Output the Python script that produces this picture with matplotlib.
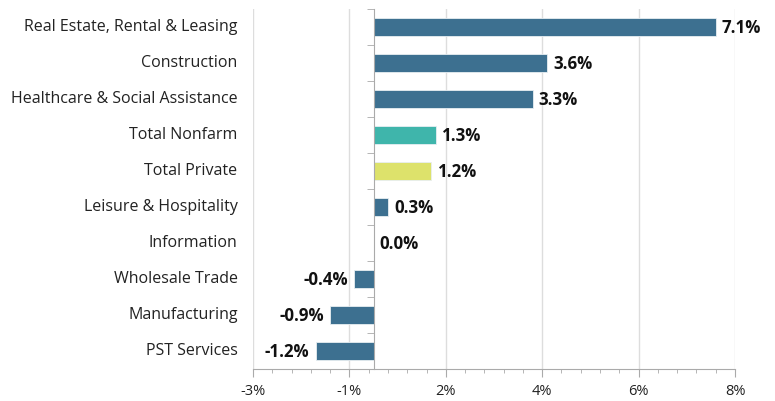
import matplotlib
matplotlib.use("Agg")
import matplotlib.pyplot as plt
import matplotlib.transforms as mtransforms
import numpy as np

categories = ["Real Estate, Rental & Leasing", "Construction",
              "Healthcare & Social Assistance", "Total Nonfarm", "Total Private",
              "Leisure & Hospitality", "Information", "Wholesale Trade",
              "Manufacturing", "PST Services"]
values = [7.1, 3.6, 3.3, 1.3, 1.2, 0.3, 0.0, -0.4, -0.9, -1.2]
colors = ["#3d7090", "#3d7090", "#3d7090", "#3fb5ab", "#dde26b",
          "#3d7090", "#3d7090", "#3d7090", "#3d7090", "#3d7090"]
xticks = [-2.5, -0.5, 1.5, 3.5, 5.5, 7.5]
xtick_labels = ["-3%", "-1%", "2%", "4%", "6%", "8%"]

plt.rcParams['font.family'] = ['Open Sans', 'DejaVu Sans']

fig = plt.figure(figsize=(7.75, 4.01), dpi=100)
ax = fig.add_axes([0.3265, 0.081, 0.6219, 0.8966])

y = np.arange(len(categories))
ax.barh(y, values, height=0.5, color=colors, edgecolor="#e8eef2",
        linewidth=0.6, zorder=3)

ax.set_xlim(-2.5, 7.5)
ax.set_ylim(len(categories) - 0.5, -0.5)

ax.set_xticks(xticks)
ax.set_xticklabels(xtick_labels, fontsize=10.5, color="#222222")
ax.set_xticks(np.arange(-2.5, 7.51, 0.4), minor=True)
ax.tick_params(axis="x", which="major", length=6, color="#aaaaaa", pad=5)
ax.tick_params(axis="x", which="minor", length=3, color="#aaaaaa")
ax.grid(axis="x", which="major", color="#dddddd", linewidth=1, zorder=0)

ax.spines["top"].set_visible(False)
ax.spines["right"].set_visible(False)
ax.spines["bottom"].set_color("#aaaaaa")
ax.spines["left"].set_position(("data", 0))
ax.spines["left"].set_color("#aaaaaa")
ax.spines["left"].set_zorder(4)

ax.set_yticks(y)
ax.set_yticklabels([])
ax.tick_params(axis="y", which="major", length=0)
ax.set_yticks(np.arange(-0.5, len(categories), 1.0), minor=True)
ax.tick_params(axis="y", which="minor", length=5, color="#aaaaaa")

trans = mtransforms.blended_transform_factory(ax.transAxes, ax.transData)
for yi, cat in zip(y, categories):
    ax.text(-0.032, yi, cat, transform=trans, ha="right", va="center",
            fontsize=11.5, color="#222222")

for yi, v in zip(y, values):
    if v >= 0:
        ax.text(v + 0.13, yi + 0.04, f"{v:.1f}%", ha="left", va="center",
                fontsize=12.2, fontweight="bold", color="#111111")
    else:
        ax.text(v - 0.13, yi + 0.04, f"{v:.1f}%", ha="right", va="center",
                fontsize=12.2, fontweight="bold", color="#111111")

fig.savefig("out.png", dpi=100)
